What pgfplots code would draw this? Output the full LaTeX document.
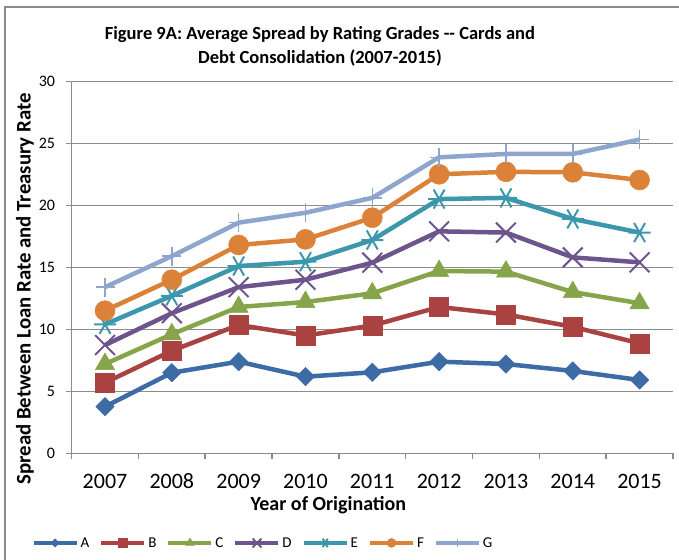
\documentclass[border=0pt]{standalone}
\usepackage{fontspec}
\setmainfont{Carlito}
\usepackage{pgfplots}
\usepackage{pgfplotstable}
\pgfplotsset{compat=1.18}
\definecolor{cA}{HTML}{3D6BA5}
\definecolor{cB}{HTML}{A94240}
\definecolor{cC}{HTML}{86A44A}
\definecolor{cD}{HTML}{6E548D}
\definecolor{cE}{HTML}{3C97AD}
\definecolor{cF}{HTML}{DB8238}
\definecolor{cG}{HTML}{8EA6CE}
\definecolor{gridgray}{HTML}{8C8C8C}
\pgfplotstableread{
year A B C D E F G
2007 3.76 5.69 7.2 8.73 10.4 11.5 13.4
2008 6.5 8.27 9.6 11.3 12.7 14.0 15.9
2009 7.39 10.35 11.8 13.4 15.1 16.8 18.6
2010 6.18 9.5 12.2 14.0 15.45 17.25 19.4
2011 6.53 10.3 12.9 15.37 17.2 19.0 20.6
2012 7.39 11.8 14.7 17.9 20.5 22.5 23.87
2013 7.2 11.2 14.65 17.8 20.6 22.7 24.14
2014 6.64 10.2 13.0 15.8 18.9 22.66 24.14
2015 5.91 8.87 12.1 15.4 17.8 22.04 25.3
}\datatable
\begin{document}
\begin{tikzpicture}
\path[use as bounding box] (-71.6pt,-105.7pt) rectangle (607.4pt,453.3pt);
\draw[gridgray, line width=1.5pt] (-66.6pt,-130pt) -- (-66.6pt,446.3pt) -- (700pt,446.3pt);
\begin{axis}[
  at={(0pt,0pt)}, anchor=south west,
  scale only axis, width=601.4pt, height=372pt,
  xmin=2006.5, xmax=2015.5, ymin=0, ymax=30,
  axis x line*=bottom, axis y line*=left,
  axis line style={-, draw=gridgray, line width=1.5pt},
  xtick={2006.5,2007.5,...,2015.5}, xticklabels={},
  extra x ticks={2007,2008,2009,2010,2011,2012,2013,2014,2015},
  extra x tick labels={2007,2008,2009,2010,2011,2012,2013,2014,2015},
  extra x tick style={major tick length=0pt, xmajorgrids=false,
     xticklabel style={font=\fontsize{22}{22}\selectfont, anchor=center, yshift=-28pt}},
  ytick={0,5,...,30},
  ymajorgrids, grid style={draw=gridgray, line width=1.5pt},
  tick align=outside, major tick length=6pt,
  tick style={draw=gridgray, line width=1.5pt},
  /pgf/number format/assume math mode=true,
  yticklabel style={font=\fontsize{16}{16}\selectfont, xshift=-7pt},
  title={Figure 9A: Average Spread by Rating Grades -{}- Cards and\\Debt Consolidation (2007-2015)},
  title style={font=\bfseries\fontsize{18.5}{24}\selectfont, align=center, at={(axis description cs:0.413,1.079)}, anchor=center},
  xlabel={Year of Origination},
  xlabel style={font=\bfseries\fontsize{20}{20}\selectfont, at={(axis description cs:0.427,-0.139)}, anchor=center},
  ylabel={Spread Between Loan Rate and Treasury Rate},
  ylabel style={font=\bfseries\fontsize{20.8}{20.8}\selectfont, at={(axis description cs:-0.0775,0.4417)}, anchor=center, rotate=0},
  legend columns=7,
  legend style={at={(axis description cs:0.3183,-0.241)}, anchor=center, draw=none, fill=none,
     font=\fontsize{15}{15}\selectfont, /tikz/every even column/.append style={column sep=8pt},
     inner sep=0pt},
  legend image code/.code={\draw[#1, mark repeat=2, mark phase=2, line width=4pt, /tikz/every mark/.append style={scale=0.45}] plot coordinates {(0pt,0pt) (21.5pt,0pt) (43pt,0pt)};},
  every axis plot/.append style={line width=4.5pt},
]
\addplot[cA, mark=square*, mark size=6.5pt, mark options={rotate=45, line width=0.5pt, fill=cA}] table[x=year,y=A]{\datatable};
\addlegendentry{A}
\addplot[cB, mark=square*, mark size=9.5pt, mark options={line width=0.5pt, fill=cB}] table[x=year,y=B]{\datatable};
\addlegendentry{B}
\addplot[cC, mark=triangle*, mark size=11pt, mark options={line width=0.5pt, fill=cC}] table[x=year,y=C]{\datatable};
\addlegendentry{C}
\addplot[cD, mark=x, mark size=14pt, mark options={line width=2pt}] table[x=year,y=D]{\datatable};
\addlegendentry{D}
\addplot[cE, mark=asterisk, mark size=11pt, mark options={rotate=90, line width=2pt}] table[x=year,y=E]{\datatable};
\addlegendentry{E}
\addplot[cF, mark=*, mark size=10pt, mark options={line width=0.5pt, fill=cF}] table[x=year,y=F]{\datatable};
\addlegendentry{F}
\addplot[cG, mark=+, mark size=9.5pt, mark options={line width=1.5pt}] table[x=year,y=G]{\datatable};
\addlegendentry{G}
\end{axis}
\end{tikzpicture}
\end{document}
